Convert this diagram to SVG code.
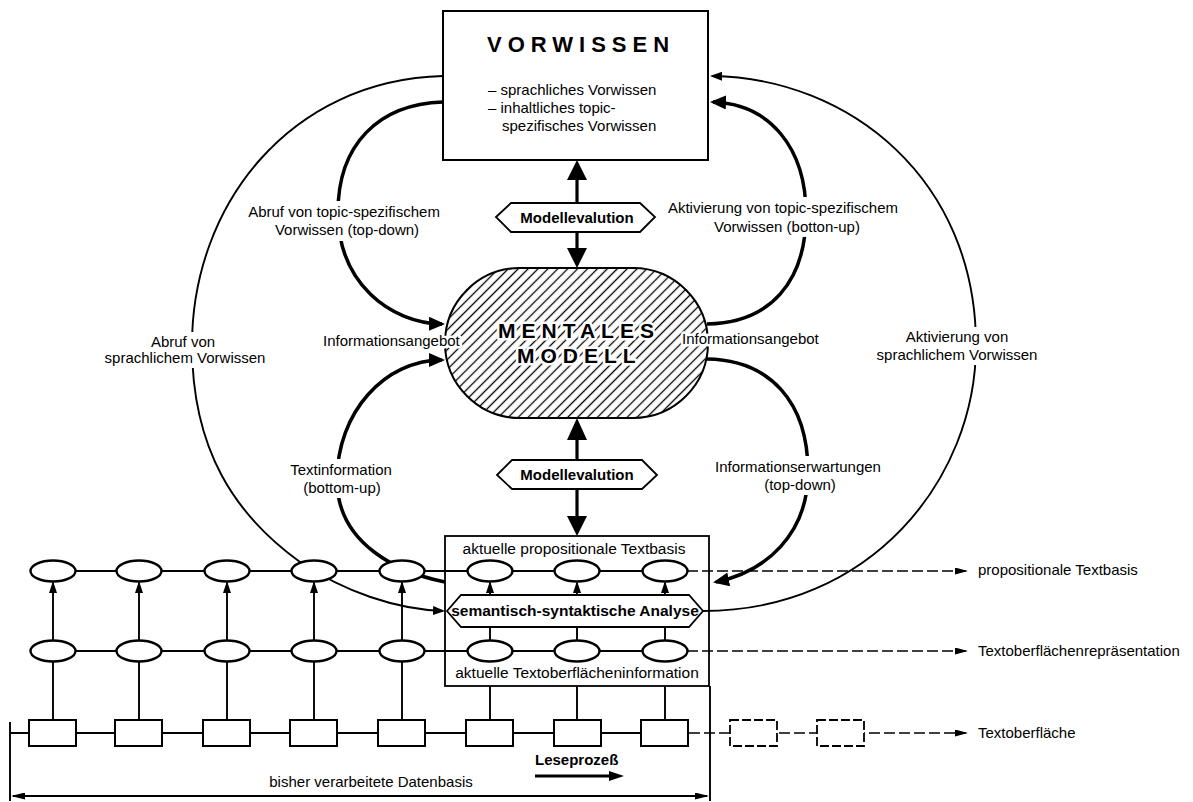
<svg xmlns="http://www.w3.org/2000/svg" width="1193" height="802" viewBox="0 0 1193 802">
<style>
text{font-family:"Liberation Sans",Arial,Helvetica,sans-serif;fill:#000}
.lb{font-size:15px}
.lbm{font-size:15px;text-anchor:middle}
.b{font-weight:bold}
.ttl{font-weight:bold;font-size:22px;letter-spacing:6px}
.thin{fill:none;stroke:#000;stroke-width:1.9}
.thick{fill:none;stroke:#000;stroke-width:3.5}
.big{fill:none;stroke:#000;stroke-width:3.2}
.dash{fill:none;stroke:#000;stroke-width:1.6;stroke-dasharray:11 4}
.ell{fill:#fff;stroke:#000;stroke-width:2.4}
.box{fill:#fff;stroke:#000;stroke-width:2}
.frame{fill:none;stroke:#000;stroke-width:1.8}
.hex{fill:#fff;stroke:#000;stroke-width:1.8}
.bg{fill:#fff}
.halo{stroke:#fff;stroke-width:5px;paint-order:stroke;stroke-linejoin:round}
</style>
<defs>
  <pattern id="hatch" patternUnits="userSpaceOnUse" width="7" height="7" patternTransform="rotate(45)">
    <line x1="3.5" y1="0" x2="3.5" y2="7" stroke="#000" stroke-width="1.3"/>
  </pattern>
  <marker id="aT" markerUnits="userSpaceOnUse" markerWidth="16" markerHeight="14" refX="13" refY="7" orient="auto"><path d="M0,0 L16,7 L0,14 z"/></marker>
  <marker id="aS" markerUnits="userSpaceOnUse" markerWidth="12" markerHeight="9" refX="10" refY="4.5" orient="auto"><path d="M0,0 L12,4.5 L0,9 z"/></marker>
  <marker id="aD" markerUnits="userSpaceOnUse" markerWidth="13" markerHeight="7" refX="11" refY="3.5" orient="auto"><path d="M0,0 L13,3.5 L0,7 z"/></marker>
  <marker id="aV" markerUnits="userSpaceOnUse" markerWidth="12" markerHeight="8" refX="10" refY="4" orient="auto"><path d="M0,0 L12,4 L0,8 z"/></marker>
  <marker id="aB" markerUnits="userSpaceOnUse" markerWidth="14" markerHeight="7" refX="12" refY="3.5" orient="auto-start-reverse"><path d="M0,0 L14,3.5 L0,7 z"/></marker>
</defs>
<rect width="1193" height="802" fill="#fff"/>

<g id="connectors">
  <!-- outer arcs: linguistic prior knowledge -->
  <path class="thin" d="M443,76 C290,80 192,205 192,345 C192,450 235,515 300,562 C345,592 395,609 443,611" marker-end="url(#aS)"/>
  <path class="thin" d="M703,611 C870,611 976,480 976,345 C976,180 850,78 712,76" marker-end="url(#aS)"/>
  <!-- inner arcs around the mental model -->
  <path class="thick" d="M443,102 C378,104 338,145 338,212 C338,283 390,323 442,324" marker-end="url(#aT)"/>
  <path class="thick" d="M707,324 C770,323 806,282 806,214 C806,148 770,104 713,102" marker-end="url(#aT)"/>
  <path class="thick" d="M445,582 C400,573 337,545 337,480 C337,412 385,360 442,360" marker-end="url(#aT)"/>
  <path class="thick" d="M707,359 C770,360 808,402 808,472 C808,535 765,572 716,582" marker-end="url(#aT)"/>
  <!-- model evaluation arrows -->
  <line class="big" x1="577" y1="203" x2="577" y2="176"/>
  <polygon points="577,160 567,180 587,180"/>
  <line class="big" x1="577" y1="232" x2="577" y2="252"/>
  <polygon points="567,248 587,248 577,268"/>
  <line class="big" x1="577" y1="460" x2="577" y2="436"/>
  <polygon points="577,418 567,440 587,440"/>
  <line class="big" x1="577" y1="489" x2="577" y2="520"/>
  <polygon points="567,516 587,516 577,536"/>
  <!-- rows -->
  <line class="thin" x1="53" y1="571" x2="665" y2="571"/>
  <line class="dash" x1="687" y1="571" x2="966" y2="571" marker-end="url(#aD)"/>
  <line class="thin" x1="53" y1="651" x2="665" y2="651"/>
  <line class="dash" x1="687" y1="651" x2="966" y2="651" marker-end="url(#aD)"/>
  <line class="thin" x1="10" y1="733" x2="689" y2="733"/>
  <line class="dash" x1="689" y1="733" x2="966" y2="733" marker-end="url(#aD)"/>
  <!-- verticals between levels -->
  <line class="thin" x1="53" y1="641" x2="53" y2="583" marker-end="url(#aV)"/>
  <line class="thin" x1="139" y1="641" x2="139" y2="583" marker-end="url(#aV)"/>
  <line class="thin" x1="227" y1="641" x2="227" y2="583" marker-end="url(#aV)"/>
  <line class="thin" x1="314" y1="641" x2="314" y2="583" marker-end="url(#aV)"/>
  <line class="thin" x1="402" y1="641" x2="402" y2="583" marker-end="url(#aV)"/>
  <line class="thin" x1="490" y1="597" x2="490" y2="583" marker-end="url(#aV)"/>
  <line class="thin" x1="577" y1="597" x2="577" y2="583" marker-end="url(#aV)"/>
  <line class="thin" x1="665" y1="597" x2="665" y2="583" marker-end="url(#aV)"/>
  <line class="thin" x1="490" y1="627" x2="490" y2="641"/>
  <line class="thin" x1="577" y1="627" x2="577" y2="641"/>
  <line class="thin" x1="665" y1="627" x2="665" y2="641"/>
  <line class="thin" x1="53" y1="661" x2="53" y2="720"/>
  <line class="thin" x1="139" y1="661" x2="139" y2="720"/>
  <line class="thin" x1="227" y1="661" x2="227" y2="720"/>
  <line class="thin" x1="314" y1="661" x2="314" y2="720"/>
  <line class="thin" x1="402" y1="661" x2="402" y2="720"/>
  <line class="thin" x1="490" y1="686" x2="490" y2="720"/>
  <line class="thin" x1="577" y1="686" x2="577" y2="720"/>
  <line class="thin" x1="665" y1="686" x2="665" y2="720"/>
  <!-- processed data base span -->
  <line class="thin" x1="10" y1="722" x2="10" y2="801"/>
  <line class="thin" x1="710" y1="686" x2="710" y2="801"/>
  <line class="thin" x1="13" y1="796" x2="707" y2="796" marker-start="url(#aB)" marker-end="url(#aB)"/>
  <!-- reading direction -->
  <line class="big" x1="535" y1="776" x2="612" y2="776"/>
  <polygon points="609,771 624,776 609,781"/>
</g>

<g id="vorwissen">
  <rect class="box" x="443" y="11" width="265" height="149"/>
  <text class="ttl" x="487" y="52">VORWISSEN</text>
  <text class="lb" x="488" y="95">– sprachliches Vorwissen</text>
  <text class="lb" x="488" y="113">– inhaltliches topic-</text>
  <text class="lb" x="502" y="131">spezifisches Vorwissen</text>
</g>

<g id="mentales-modell">
  <rect x="445" y="268" width="263" height="150" rx="75" ry="75" fill="url(#hatch)" stroke="#000" stroke-width="2"/>
  <text class="ttl halo" x="498" y="338" style="font-size:21px">MENTALES</text>
  <text class="ttl halo" x="517" y="363" style="font-size:21px">MODELL</text>
</g>

<g id="modellevalution-oben">
  <polygon class="hex" points="496,217 511,203 640,203 655,217 640,232 511,232"/>
  <text class="b" x="577" y="223" text-anchor="middle" font-size="15">Modellevalution</text>
</g>

<g id="modellevalution-unten">
  <polygon class="hex" points="497,475 512,460 642,460 657,475 642,489 512,489"/>
  <text class="b" x="577" y="480" text-anchor="middle" font-size="15">Modellevalution</text>
</g>

<g id="aktuelle-verarbeitung">
  <rect class="frame" x="445" y="536" width="264" height="150"/>
  <text x="574" y="554" text-anchor="middle" font-size="15.5">aktuelle propositionale Textbasis</text>
  <text x="577" y="678" text-anchor="middle" font-size="15.5">aktuelle Textoberflächeninformation</text>
</g>

<g id="analyse">
  <polygon class="hex" points="447,611 461,595 689,595 703,611 689,627 461,627"/>
  <text class="b" x="575" y="616" text-anchor="middle" font-size="15.5">semantisch-syntaktische Analyse</text>
</g>

<g id="propositionen">
  <ellipse class="ell" cx="53" cy="571" rx="22.5" ry="10.5"/>
  <ellipse class="ell" cx="139" cy="571" rx="22.5" ry="10.5"/>
  <ellipse class="ell" cx="227" cy="571" rx="22.5" ry="10.5"/>
  <ellipse class="ell" cx="314" cy="571" rx="22.5" ry="10.5"/>
  <ellipse class="ell" cx="402" cy="571" rx="22.5" ry="10.5"/>
  <ellipse class="ell" cx="490" cy="571" rx="22.5" ry="10.5"/>
  <ellipse class="ell" cx="577" cy="571" rx="22.5" ry="10.5"/>
  <ellipse class="ell" cx="665" cy="571" rx="22.5" ry="10.5"/>
</g>

<g id="oberflaechenrepraesentationen">
  <ellipse class="ell" cx="53" cy="651" rx="22.5" ry="10.5"/>
  <ellipse class="ell" cx="139" cy="651" rx="22.5" ry="10.5"/>
  <ellipse class="ell" cx="227" cy="651" rx="22.5" ry="10.5"/>
  <ellipse class="ell" cx="314" cy="651" rx="22.5" ry="10.5"/>
  <ellipse class="ell" cx="402" cy="651" rx="22.5" ry="10.5"/>
  <ellipse class="ell" cx="490" cy="651" rx="22.5" ry="10.5"/>
  <ellipse class="ell" cx="577" cy="651" rx="22.5" ry="10.5"/>
  <ellipse class="ell" cx="665" cy="651" rx="22.5" ry="10.5"/>
</g>

<g id="textoberflaeche">
  <rect class="box" x="29" y="720" width="47" height="26"/>
  <rect class="box" x="115" y="720" width="47" height="26"/>
  <rect class="box" x="203" y="720" width="47" height="26"/>
  <rect class="box" x="290" y="720" width="47" height="26"/>
  <rect class="box" x="378" y="720" width="47" height="26"/>
  <rect class="box" x="466" y="720" width="47" height="26"/>
  <rect class="box" x="554" y="720" width="47" height="26"/>
  <rect class="box" x="641" y="720" width="47" height="26"/>
  <rect x="730" y="720" width="47" height="26" fill="#fff" stroke="#000" stroke-width="1.8" stroke-dasharray="9 3"/>
  <rect x="817" y="720" width="47" height="26" fill="#fff" stroke="#000" stroke-width="1.8" stroke-dasharray="9 3"/>
</g>

<g id="labels">
  <rect class="bg" x="243" y="201" width="204" height="40"/>
  <text class="lbm" x="344" y="217">Abruf von topic-spezifischem</text>
  <text class="lbm" x="347" y="235">Vorwissen (top-down)</text>

  <rect class="bg" x="658" y="197" width="250" height="40"/>
  <text class="lbm" x="783" y="213">Aktivierung von topic-spezifischem</text>
  <text class="lbm" x="787" y="232">Vorwissen (botton-up)</text>

  <rect class="bg" x="102" y="332" width="166" height="36"/>
  <text class="lbm" x="183" y="347">Abruf von</text>
  <text class="lbm" x="185" y="363">sprachlichem Vorwissen</text>

  <rect class="bg" x="873" y="327" width="168" height="38"/>
  <text class="lbm" x="957" y="342">Aktivierung von</text>
  <text class="lbm" x="957" y="360">sprachlichem Vorwissen</text>

  <text class="lb halo" x="323" y="346">Informationsangebot</text>
  <text class="lb halo" x="682" y="344">Informationsangebot</text>

  <rect class="bg" x="285" y="459" width="113" height="39"/>
  <text class="lbm" x="341" y="475">Textinformation</text>
  <text class="lbm" x="342" y="493">(bottom-up)</text>

  <rect class="bg" x="710" y="456" width="180" height="39"/>
  <text class="lbm" x="798" y="472">Informationserwartungen</text>
  <text class="lbm" x="800" y="490">(top-down)</text>

  <text class="lb" x="978" y="575">propositionale Textbasis</text>
  <text class="lb" x="978" y="656">Textoberflächenrepräsentation</text>
  <text class="lb" x="978" y="738">Textoberfläche</text>

  <text class="b" x="535" y="765" font-size="15">Leseprozeß</text>
  <text class="lbm" x="371" y="787">bisher verarbeitete Datenbasis</text>
</g>
</svg>
